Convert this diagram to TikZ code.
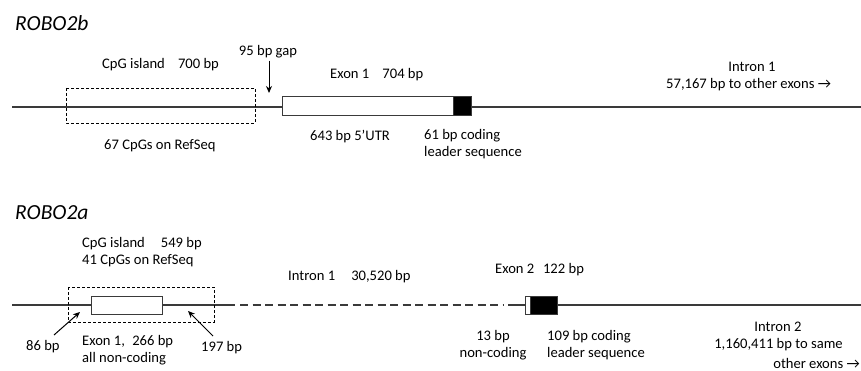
\documentclass[tikz,border=0pt]{standalone}
\usepackage{fontspec}
\setmainfont{Carlito}
\usetikzlibrary{arrows.meta}
\definecolor{ln}{HTML}{3A3A3A}
\tikzset{
  lbl/.style={inner sep=0pt, font=\fontsize{14.6}{17.5}\selectfont, align=left},
  ttl/.style={inner sep=0pt, anchor=west, font=\fontsize{21.5}{24}\selectfont\itshape},
  dna/.style={draw=ln, line width=1.2pt},
  island/.style={draw=black, line width=0.9pt, dash pattern=on 3pt off 2pt},
  utr/.style={draw=ln, line width=1pt, fill=white},
  cds/.style={draw=ln, line width=1pt, fill=black},
  intr/.style={draw=ln, line width=1.2pt, dash pattern=on 8pt off 4.5pt},
  pointer/.style={draw=black, line width=1pt, -{Stealth[length=7pt,width=6pt]}}
}
\begin{document}
\begin{tikzpicture}[x=1pt,y=-1pt]
\useasboundingbox (0,0) rectangle (861,371);
% ---------- ROBO2b ----------
\node[ttl] (t1) at (15,23) {ROBO2b};
\coordinate (b1s) at (12,107);
\coordinate (b1e) at (861,107);
\draw[dna] (b1s) -- (b1e);
\draw[island] (66,88) rectangle (255,123);
\draw[utr] (282,97) rectangle (453,116);
\draw[cds] (453,97) rectangle (471,116);
\node[lbl, anchor=west] (cpg1) at (102,65) {CpG island\hspace{0.9em}700 bp};
\node[lbl, anchor=west] (cpgn1) at (104,146) {67 CpGs on RefSeq};
\node[lbl] (gap) at (268,52) {95 bp gap};
\coordinate (gapt) at (269,93);
\draw[pointer] (gap.south -| gapt) ++(0,2) -- (gapt);
\node[lbl, anchor=west] (ex1) at (330,75) {Exon 1\hspace{0.9em}704 bp};
\node[lbl, anchor=west] (utr1) at (310,137) {643 bp 5’UTR};
\node[lbl, anchor=north west] (cod1) at (424,129) {61 bp coding\\[-0.5pt]leader sequence};
\node[lbl] (in1) at (752,67) {Intron 1};
\node[lbl, anchor=west] (in1b) at (666,85) {57,167 bp to other exons →};
% ---------- ROBO2a ----------
\node[ttl] (t2) at (15,213) {ROBO2a};
\coordinate (a1s) at (12,305);
\coordinate (a1m) at (235,305);
\coordinate (a1d) at (240,305);
\coordinate (a1f) at (503,305);
\coordinate (a1g) at (508,305);
\coordinate (a1e) at (861,305);
\draw[dna] (a1s) -- (a1m);
\draw[intr] (a1d) -- (a1f);
\draw[dna] (a1g) -- (a1e);
\draw[island] (68,287) rectangle (214,322);
\draw[utr] (91,296) rectangle (162,314);
\draw[utr] (525,296) rectangle (530,314);
\draw[cds] (530,296) rectangle (557,314);
\node[lbl, anchor=north west] (cpg2) at (82,237) {CpG island\hspace{1.1em}549 bp\\[-0.5pt]41 CpGs on RefSeq};
\node[lbl, anchor=west] (in1a) at (288,277) {Intron 1\hspace{1.1em}30,520 bp};
\node[lbl, anchor=west] (ex2) at (495,270) {Exon 2\hspace{0.6em}122 bp};
\node[lbl, anchor=west] (b86) at (26,347) {86 bp};
\node[lbl, anchor=west] (b197) at (201,348) {197 bp};
\coordinate (p86) at (80,312);
\coordinate (p197) at (188,311);
\draw[pointer] (54,335) -- (p86);
\draw[pointer] (213,336) -- (p197);
\node[lbl, anchor=north west] (ex1a) at (82,335) {Exon 1,\hspace{0.5em}266 bp\\[-0.5pt]all non-coding};
\node[lbl, anchor=north, align=center] (nc13) at (493,330) {13 bp\\[-0.5pt]non-coding};
\node[lbl, anchor=north west] (cod2) at (547,330) {109 bp coding\\[-0.5pt]leader sequence};
\node[lbl] (in2) at (778,327) {Intron 2};
\node[lbl] (in2b) at (778.5,345) {1,160,411 bp to same};
\node[lbl, anchor=east] (in2c) at (860,363) {other exons →};
\end{tikzpicture}
\end{document}
